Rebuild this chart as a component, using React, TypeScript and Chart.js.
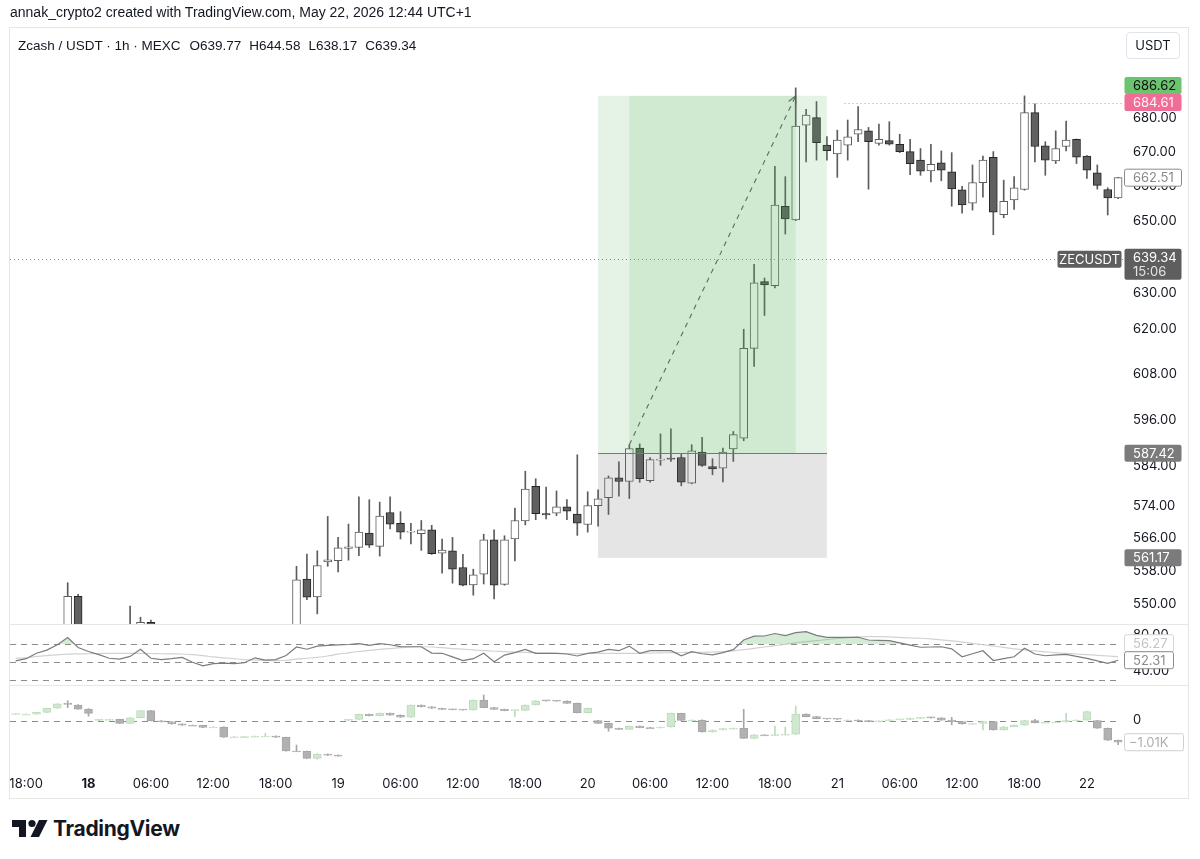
import React, { useEffect, useRef } from "react";
import { Chart, registerables } from "chart.js";

Chart.register(...registerables);

const FONT = "Inter, 'Noto Sans', Roboto, sans-serif";
const TEXT_FONT = "'Liberation Sans', Arial, sans-serif";
const TEXT = "#131722";

// one candle per hour; hour 0 = 18 May 00:00 (UTC+1)
const FIRST_HOUR = -7;

const OPEN = [528, 529, 531, 535, 538, 542, 551.8,
  540, 537, 536, 535, 536, 539, 545.6, 540, 539, 540,
  541, 537, 533, 535, 534, 533.5, 534.5, 538, 536.5, 537.5,
  541, 556.0, 551.7, 560.2, 560.5, 563.5, 563.7, 567.3, 564.0, 572.4,
  569.7, 567.5, 567.1, 568.1, 562.3, 562.9, 558.8, 554.6, 557.2, 565.6,
  554.7, 565.8, 570.3, 579.0, 572.1, 572.2, 573.8, 572.0, 569.4, 574.1,
  576.1, 581.1, 580.2, 588.7, 580.4, 585.6, 586.1, 586.3, 579.8, 587.7,
  584.0, 583.6, 588.5, 591.3, 614.9, 633.1, 632.0, 654.3, 650.4, 677.9,
  680.1, 672.0, 669.4, 672.0, 675.2, 676.2, 672.5, 673.3, 672.2, 670.1,
  667.6, 664.5, 666.8, 664.2, 659.0, 655.2, 661.1, 668.4, 651.9, 656.1,
  659.1, 681.6, 671.8, 667.4, 671.6, 673.7, 668.8, 663.9, 659.1, 656.7];
const HIGH = [531, 533, 536, 540, 544, 555.1, 552.3,
  542, 540, 539, 538, 549.5, 546.8, 546.1, 542, 542, 543,
  542, 538, 537, 537, 536, 536, 540, 539, 539, 542,
  559.1, 562.1, 562.9, 571.4, 566.2, 569.5, 576.3, 575.6, 575.0, 576.3,
  572.6, 569.7, 570.4, 569.2, 565.8, 566.2, 562.0, 558.4, 567.0, 568.1,
  566.6, 573.5, 582.8, 580.9, 578.8, 577.8, 575.6, 587.0, 577.6, 578.1,
  581.6, 585.2, 589.6, 589.8, 586.3, 592.4, 593.7, 587.1, 589.6, 591.5,
  586.0, 588.7, 593.0, 620.1, 637.9, 634.1, 665.8, 662.8, 689.0, 682.6,
  684.9, 674.5, 676.4, 679.4, 683.4, 677.2, 678.2, 678.9, 675.2, 673.7,
  671.0, 672.2, 670.3, 669.8, 660.0, 666.2, 668.8, 670.1, 661.8, 662.8,
  686.6, 684.2, 673.0, 676.2, 679.1, 673.8, 668.9, 666.2, 659.6, 662.6];
const LOW = [525, 527, 529, 533, 536, 540, 538,
  535, 534, 533, 532, 534, 538, 538, 536, 537, 538,
  535, 531, 531, 532, 532, 532, 533, 535, 535, 536,
  539, 551.0, 547.6, 559.1, 557.7, 560.6, 561.7, 563.7, 561.6, 568.3,
  565.8, 564.6, 563.0, 562.0, 557.4, 555.0, 554.3, 552.1, 554.8, 551.2,
  554.5, 560.4, 569.3, 570.6, 570.8, 571.6, 570.6, 566.7, 567.5, 569.0,
  571.9, 576.5, 575.9, 580.0, 580.0, 584.3, 585.3, 579.1, 579.6, 584.0,
  581.9, 580.1, 585.3, 590.6, 610.1, 623.8, 631.4, 646.4, 650.2, 667.1,
  667.6, 667.6, 662.6, 667.6, 673.0, 659.2, 672.0, 672.0, 669.8, 663.4,
  663.2, 661.3, 661.6, 654.3, 652.3, 653.2, 656.9, 646.2, 651.0, 653.4,
  658.9, 667.1, 663.2, 666.6, 670.3, 666.6, 662.3, 659.2, 651.8, 656.5];
const CLOSE = [529, 531, 535, 538, 542, 551.8, 540,
  537, 536, 535, 536, 539, 545.6, 540, 539, 540, 541,
  537, 533, 535, 534, 533.5, 534.5, 538, 536.5, 537.5, 541,
  555.8, 551.6, 559.3, 560.7, 563.6, 563.9, 567.5, 564.3, 571.5, 569.5,
  567.5, 567.7, 568.1, 562.2, 563.1, 558.4, 554.5, 557.0, 565.6, 554.5,
  565.6, 570.4, 578.3, 572.1, 571.8, 573.8, 572.7, 569.7, 574.1, 575.8,
  581.1, 580.2, 588.6, 580.9, 585.8, 585.9, 585.9, 580.0, 588.0, 584.3,
  583.4, 587.7, 592.2, 614.9, 632.8, 632.2, 654.6, 650.7, 677.6, 680.9,
  672.7, 670.4, 673.5, 674.4, 676.6, 673.0, 673.7, 672.3, 670.1, 666.6,
  664.4, 666.4, 664.7, 659.3, 654.7, 661.1, 667.6, 652.6, 655.7, 659.6,
  681.6, 671.6, 667.6, 671.0, 673.5, 668.5, 664.7, 660.3, 656.7, 662.51];

const RSI = [51.5, 54, 60, 63.5, 69.5, 77.5, 66.5,
  62, 58.5, 54.5, 53.5, 56.5, 64.5, 54.5, 53, 54, 55.5,
  50, 46, 48.5, 49, 48.5, 49.5, 55, 52.5, 53, 57.5,
  67, 64.5, 68, 68.8, 69.4, 69.8, 70.7, 68.9, 70.7, 69.5,
  67.5, 67.3, 67.3, 60.2, 60, 56, 51.8, 54, 60, 50.7,
  58, 60.7, 64.4, 60, 60, 60, 59.2, 57, 60, 61.3,
  64.4, 62.9, 68, 60, 62.9, 62.9, 62.9, 57.3, 61.8, 59.5,
  58.3, 60.7, 64, 74.8, 79, 79.2, 82, 79.6, 82.9, 84,
  80, 77.8, 77.8, 77.8, 77.8, 74.8, 74.4, 74, 71.5, 69,
  66.7, 67, 67.3, 65, 56.2, 59.5, 62.9, 52, 54, 56.2,
  65.6, 59.2, 57.3, 58.2, 58.9, 56.5, 54.4, 51.5, 48.9, 52.31];
const RSI_MA = [54.4, 55, 56.5, 57.5, 58.3, 59, 59.3,
  59.5, 59.7, 59.9, 60, 60, 60, 59.8, 59.5, 59.3, 59.2,
  58.5, 57.5, 56, 55, 54, 53, 52.5, 52, 51.8, 52.3,
  53.5, 54.5, 55.5, 57, 59, 60.5, 62, 63.2, 64.3, 65.3,
  66.2, 67, 67.3, 67, 66.2, 65.3, 64.6, 63.8, 63, 62.3,
  61.8, 61.3, 61, 60.5, 60.2, 60, 59.8, 59.7, 59.8, 60,
  60, 60, 60, 60, 60.2, 60.5, 60.7, 60.9, 61, 61.1,
  61.2, 61.8, 62.8, 64, 65.5, 67, 68.5, 70, 71.5, 73,
  74, 75.3, 76.5, 77.5, 78.2, 78.5, 78.5, 78.2, 77.6, 77,
  76.7, 76, 75, 73.8, 72.5, 71.1, 69.5, 68, 66.5, 65,
  63.7, 62.6, 61.6, 60.7, 59.9, 59.2, 58.5, 57.8, 57, 56.27];

// cumulative volume delta candles, in thousands (resets daily)
const CVD_OPEN = [0.28, 0.30, 0.29, 0.38, 0.57, 0.77, 0.72,
  0.53, 0.0, 0.05, 0.05, -0.13, 0.13, 0.46, -0.01, -0.06, -0.16,
  -0.22, -0.23, -0.32, -0.30, -0.78, -0.76, -0.75, -0.73, -0.72, -0.78,
  -1.42, -1.43, -1.76, -1.56, -1.61, 0.0, 0.05, 0.29, 0.22, 0.34,
  0.25, 0.15, 0.72, 0.64, 0.57, 0.52, 0.5, 0.49, 0.95, 0.6,
  0.52, 0.46, 0.47, 0.72, 0.92, 0.91, 0.9, 0.8, 0.36, 0.0,
  -0.13, -0.36, -0.41, -0.26, -0.33, -0.34, -0.3, 0.33, 0.0, 0.02,
  -0.53, -0.44, -0.38, -0.36, -0.83, -0.67, -0.68, -0.66, -0.64, 0.3,
  0.18, 0.09, 0.07, 0.0, 0.02, 0.0, -0.05, -0.02, 0.03, 0.05,
  0.1, 0.15, 0.12, 0.02, -0.05, -0.16, -0.14, -0.05, -0.44, -0.29,
  -0.22, 0.0, -0.1, -0.08, -0.07, 0.0, 0.02, 0.0, -0.36, -0.92];
const CVD_HIGH = [0.31, 0.31, 0.39, 0.58, 0.78, 0.92, 0.74,
  0.55, 0.06, 0.06, 0.06, 0.14, 0.47, 0.47, 0.0, -0.05, -0.15,
  -0.21, -0.22, -0.29, -0.29, -0.75, -0.74, -0.72, -0.6, -0.71, -0.77,
  -1.14, -1.42, -1.55, -1.55, -1.6, 0.06, 0.3, 0.3, 0.35, 0.35,
  0.26, 0.73, 0.73, 0.65, 0.58, 0.53, 0.51, 0.96, 1.19, 0.61,
  0.53, 0.48, 0.73, 0.93, 0.93, 0.92, 0.91, 0.81, 0.58, 0.01,
  -0.12, -0.35, -0.25, -0.25, -0.32, -0.29, 0.34, 0.34, 0.03, 0.03,
  -0.43, -0.37, -0.35, 0.52, -0.66, -0.66, -0.26, -0.3, 0.67, 0.31,
  0.19, 0.1, 0.08, 0.03, 0.03, 0.01, -0.01, 0.04, 0.06, 0.11,
  0.16, 0.16, 0.13, 0.15, -0.04, -0.13, -0.04, -0.04, -0.28, -0.2,
  0.01, 0.06, -0.07, -0.06, 0.33, 0.03, 0.42, 0.01, -0.35, -0.91];
const CVD_LOW = [0.27, 0.29, 0.28, 0.37, 0.56, 0.6, 0.52,
  0.2, -0.01, 0.04, -0.14, -0.14, 0.12, -0.02, -0.07, -0.17, -0.23,
  -0.24, -0.33, -0.33, -0.79, -0.79, -0.77, -0.76, -0.75, -0.79, -1.43,
  -1.44, -1.77, -1.8, -1.63, -1.66, -0.01, 0.04, 0.21, 0.21, 0.24,
  0.14, 0.14, 0.63, 0.56, 0.51, 0.49, 0.48, 0.48, 0.59, 0.51,
  0.45, 0.18, 0.46, 0.71, 0.9, 0.89, 0.79, 0.35, 0.35, -0.14,
  -0.5, -0.42, -0.42, -0.34, -0.35, -0.35, -0.31, -0.01, -0.01, -0.54,
  -0.54, -0.45, -0.39, -0.84, -0.84, -0.69, -0.69, -0.67, -0.65, 0.17,
  0.08, 0.06, 0.05, -0.01, -0.01, -0.06, -0.06, -0.03, 0.02, 0.04,
  0.09, 0.11, 0.01, -0.2, -0.17, -0.17, -0.44, -0.45, -0.45, -0.3,
  -0.23, -0.11, -0.11, -0.09, -0.08, -0.01, 0.01, -0.37, -0.93, -1.12];
const CVD_CLOSE = [0.30, 0.30, 0.38, 0.57, 0.77, 0.75, 0.53,
  0.33, 0.05, 0.05, -0.13, 0.13, 0.46, -0.01, -0.06, -0.16, -0.22,
  -0.23, -0.32, -0.30, -0.78, -0.76, -0.75, -0.73, -0.72, -0.78, -1.42,
  -1.43, -1.76, -1.56, -1.61, -1.65, 0.05, 0.29, 0.22, 0.34, 0.25,
  0.15, 0.72, 0.64, 0.57, 0.52, 0.5, 0.49, 0.95, 0.6, 0.52,
  0.46, 0.47, 0.72, 0.92, 0.91, 0.9, 0.8, 0.36, 0.57, -0.13,
  -0.36, -0.41, -0.26, -0.33, -0.34, -0.3, 0.33, 0.0, 0.02, -0.53,
  -0.44, -0.38, -0.36, -0.83, -0.67, -0.68, -0.66, -0.64, 0.3, 0.18,
  0.09, 0.07, 0.06, 0.02, 0.0, -0.05, -0.02, 0.03, 0.05, 0.1,
  0.15, 0.12, 0.02, -0.05, -0.16, -0.14, -0.05, -0.44, -0.29, -0.22,
  0.0, -0.1, -0.08, -0.07, 0.0, 0.02, 0.41, -0.36, -0.92, -1.01];

const TIME_TICKS = [-6, 0, 6, 12, 18, 24, 30, 36, 42, 48, 54, 60, 66, 72, 78, 84, 90, 96];
const TIME_LABELS = ["18:00", "18", "06:00", "12:00", "18:00", "19", "06:00", "12:00", "18:00",
  "20", "06:00", "12:00", "18:00", "21", "06:00", "12:00", "18:00", "22"];
const BOLD_TIME_TICKS = [0];
const PRICE_TICKS = [550, 558, 566, 574, 584, 596, 608, 620, 630, 640, 650, 660, 670, 680, 690];
const RSI_TICKS = [40, 60, 80];
const RSI_BANDS = [70, 50, 30];
const CVD_TICKS = [0];

// long position tool + marked levels
const POS_START = 49, POS_END = 71, POS_ACTIVE_START = 52, POS_ACTIVE_END = 68;
const ENTRY = 587.42, TARGET = 686.62, STOP = 561.17;
const ARROW_FROM = { h: 52, p: 589.6 }, ARROW_TO = { h: 68, p: 686.62 };
const LAST_PRICE = 639.34, COUNTDOWN = "15:06", SYMBOL = "ZECUSDT";
const ALERT_PRICE = 684.61, ALERT_FROM = 72.7;
const SERIES_LAST = 662.51;
const RSI_LAST = 52.31, RSI_MA_LAST = 56.27, CVD_LAST = -1.01;

const HOURS = OPEN.map((_, i) => FIRST_HOUR + i);

function rr(ctx, x, y, w, h, r) {
  ctx.beginPath();
  ctx.moveTo(x + r, y);
  ctx.lineTo(x + w - r, y);
  ctx.quadraticCurveTo(x + w, y, x + w, y + r);
  ctx.lineTo(x + w, y + h - r);
  ctx.quadraticCurveTo(x + w, y + h, x + w - r, y + h);
  ctx.lineTo(x + r, y + h);
  ctx.quadraticCurveTo(x, y + h, x, y + h - r);
  ctx.lineTo(x, y + r);
  ctx.quadraticCurveTo(x, y, x + r, y);
  ctx.closePath();
}

function labelBox(ctx, x, top, w, h, bg, border, lines, textX, align = "left") {
  ctx.save();
  rr(ctx, x + 0.5, top + 0.5, w - 1, h - 1, 2);
  ctx.fillStyle = bg;
  ctx.fill();
  if (border) {
    ctx.strokeStyle = border;
    ctx.lineWidth = 1;
    ctx.stroke();
  }
  ctx.font = `13px ${FONT}`;
  ctx.textBaseline = "middle";
  ctx.textAlign = align;
  for (const ln of lines) {
    ctx.fillStyle = ln.color;
    ctx.fillText(ln.text, textX, ln.y);
  }
  ctx.restore();
}

function hLine(ctx, x1, x2, y) {
  const yy = Math.round(y) + 0.5;
  ctx.beginPath();
  ctx.moveTo(x1, yy);
  ctx.lineTo(x2, yy);
  ctx.stroke();
}

const overlayPlugin = {
  id: "tvOverlay",
  beforeDatasetDraw(chart, args) {
    const ys = args.meta.yScale;
    const a = chart.chartArea;
    chart.ctx.save();
    chart.ctx.beginPath();
    chart.ctx.rect(a.left, ys.top, a.right - a.left, ys.bottom - ys.top);
    chart.ctx.clip();
  },
  afterDatasetDraw(chart) {
    chart.ctx.restore();
  },
  beforeDatasetsDraw(chart) {
    const { ctx, chartArea: a } = chart;
    const yr = chart.scales.yRsi, yc = chart.scales.yCvd;
    ctx.save();
    ctx.strokeStyle = "#8c8c8c";
    ctx.lineWidth = 1;
    ctx.setLineDash([6, 5]);
    for (const b of RSI_BANDS) hLine(ctx, a.left, a.right - 2, yr.getPixelForValue(b));
    for (const b of CVD_TICKS) hLine(ctx, a.left, a.right - 2, yc.getPixelForValue(b));
    ctx.restore();
  },
  afterDatasetsDraw(chart) {
    const { ctx, chartArea: a } = chart;
    const xs = chart.scales.x, yp = chart.scales.yPrice;
    const X = (h) => xs.getPixelForValue(h);
    const Y = (p) => yp.getPixelForValue(p);
    ctx.save();
    ctx.beginPath();
    ctx.rect(a.left, yp.top, a.right - a.left, yp.bottom - yp.top);
    ctx.clip();
    const x1 = X(POS_START), x2 = X(POS_END), xa1 = X(POS_ACTIVE_START), xa2 = X(POS_ACTIVE_END);
    const yT = Y(TARGET), yE = Y(ENTRY), yS = Y(STOP);
    ctx.fillStyle = "rgba(76,175,80,0.15)";
    ctx.fillRect(x1, yT, x2 - x1, yE - yT);
    ctx.fillStyle = "rgba(76,175,80,0.13)";
    ctx.fillRect(xa1, yT, xa2 - xa1, yE - yT);
    ctx.fillStyle = "rgba(110,110,110,0.18)";
    ctx.fillRect(x1, yE, x2 - x1, yS - yE);
    ctx.strokeStyle = "#777777";
    ctx.lineWidth = 1;
    hLine(ctx, x1, x2, yE);

    // dashed path arrow
    const ax1 = X(ARROW_FROM.h), ay1 = Y(ARROW_FROM.p), ax2 = X(ARROW_TO.h), ay2 = Y(ARROW_TO.p);
    ctx.strokeStyle = "rgba(85,100,85,0.95)";
    ctx.lineWidth = 1.1;
    ctx.setLineDash([5, 5]);
    ctx.beginPath();
    ctx.moveTo(ax1, ay1);
    ctx.lineTo(ax2, ay2);
    ctx.stroke();
    ctx.setLineDash([]);
    const ang = Math.atan2(ay2 - ay1, ax2 - ax1);
    ctx.beginPath();
    ctx.moveTo(ax2 - 9 * Math.cos(ang - 0.45), ay2 - 9 * Math.sin(ang - 0.45));
    ctx.lineTo(ax2, ay2);
    ctx.lineTo(ax2 - 9 * Math.cos(ang + 0.45), ay2 - 9 * Math.sin(ang + 0.45));
    ctx.stroke();

    // last price dotted line
    ctx.lineWidth = 1;
    ctx.strokeStyle = "#8a8a8a";
    ctx.setLineDash([1, 3]);
    hLine(ctx, a.left, a.right, Y(LAST_PRICE));
    // alert line
    ctx.strokeStyle = "#f07ca0";
    hLine(ctx, X(ALERT_FROM), a.right, Y(ALERT_PRICE));
    ctx.restore();
  },
  afterDraw(chart) {
    const { ctx, chartArea: a } = chart;
    const yp = chart.scales.yPrice, yr = chart.scales.yRsi, yc = chart.scales.yCvd;
    const frameR = 1188.5;
    ctx.save();
    ctx.strokeStyle = "#e6e6e6";
    ctx.lineWidth = 1;
    hLine(ctx, a.left, frameR, yp.bottom - 1);
    hLine(ctx, a.left, frameR, yr.bottom - 1);
    ctx.strokeRect(9.5, 27.5, frameR - 9.5, 771);
    ctx.restore();

    const bx = a.right + 1, bw = 58, bh = 18, tx = a.right + 10;
    // symbol tag on the last price line
    const yL = yp.getPixelForValue(LAST_PRICE);
    labelBox(ctx, a.right - 66, yL - 9, 65, bh, "#5e5e5e", null,
      [{ text: SYMBOL, y: yL + 0.5, color: "#ffffff" }], a.right - 33.5, "center");
    labelBox(ctx, bx, yL - 11, bw, 32, "#5e5e5e", null,
      [{ text: LAST_PRICE.toFixed(2), y: yL - 1, color: "#ffffff" },
       { text: COUNTDOWN, y: yL + 13, color: "#e4e4e4" }], tx);

    const yA = yp.getPixelForValue(ALERT_PRICE);
    labelBox(ctx, bx, yA - 9, bw, bh, "#ef6d96", null,
      [{ text: ALERT_PRICE.toFixed(2), y: yA + 0.5, color: "#fff4f7" }], tx);
    const yTg = yA - 17;
    labelBox(ctx, bx, yTg - 9, bw, bh, "#6cc46f", null,
      [{ text: TARGET.toFixed(2), y: yTg + 0.5, color: "#111111" }], tx);

    const yS = yp.getPixelForValue(SERIES_LAST);
    labelBox(ctx, bx, yS - 9, bw, bh, "#ffffff", "#8a8a8a",
      [{ text: SERIES_LAST.toFixed(2), y: yS + 0.5, color: "#8a8a8a" }], tx);

    const yE = yp.getPixelForValue(ENTRY);
    labelBox(ctx, bx, yE - 9, bw, bh, "#7b7b7b", null,
      [{ text: ENTRY.toFixed(2), y: yE + 0.5, color: "#ffffff" }], tx);
    const ySt = yp.getPixelForValue(STOP);
    labelBox(ctx, bx, ySt - 9, bw, bh, "#7b7b7b", null,
      [{ text: STOP.toFixed(2), y: ySt + 0.5, color: "#ffffff" }], tx);

    const yR = yr.getPixelForValue(RSI_LAST);
    const yM = yR - 17;
    labelBox(ctx, bx, yM - 9, 50, bh, "#ffffff", "#d6d6d6",
      [{ text: RSI_MA_LAST.toFixed(2), y: yM + 0.5, color: "#c4c4c4" }], tx);
    labelBox(ctx, bx, yR - 9, 50, bh, "#ffffff", "#8c8c8c",
      [{ text: RSI_LAST.toFixed(2), y: yR + 0.5, color: "#8c8c8c" }], tx);

    const yC = yc.getPixelForValue(CVD_LAST);
    labelBox(ctx, bx, yC - 9, 60, bh, "#ffffff", "#d0d0d0",
      [{ text: "\u2212" + Math.abs(CVD_LAST).toFixed(2) + "K", y: yC + 0.5, color: "#b0b0b0" }], a.right + 6);
  },
};

const axisWidth = (s) => { s.width = 77; };

export default function App() {
  const ref = useRef(null);

  useEffect(() => {
    const canvas = ref.current;
    Chart.defaults.font.family = FONT;
    Chart.defaults.color = TEXT;

    const bull = HOURS.map((_, i) => CLOSE[i] >= OPEN[i]);
    const cvdUp = HOURS.map((_, i) => CVD_CLOSE[i] >= CVD_OPEN[i]);

    const chart = new Chart(canvas, {
      type: "bar",
      data: {
        datasets: [
          {
            label: "body",
            yAxisID: "yPrice",
            order: 1,
            grouped: false,
            barThickness: 8,
            minBarLength: 1,
            borderWidth: 1,
            borderSkipped: false,
            data: HOURS.map((h, i) => ({ x: h, y: [OPEN[i], CLOSE[i]] })),
            backgroundColor: bull.map((b) => (b ? "#ffffff" : "#606060")),
            borderColor: bull.map((b) => (b ? "#5c5c5c" : "#262626")),
          },
          {
            label: "wick",
            yAxisID: "yPrice",
            order: 2,
            grouped: false,
            barThickness: 1,
            borderWidth: 0,
            data: HOURS.map((h, i) => ({ x: h, y: [LOW[i], HIGH[i]] })),
            backgroundColor: "#5c5c5c",
          },
          {
            type: "line",
            label: "RSI",
            yAxisID: "yRsi",
            order: 1,
            data: HOURS.map((h, i) => ({ x: h, y: RSI[i] })),
            borderColor: "#7c7c7c",
            borderWidth: 1.2,
            pointRadius: 0,
            tension: 0,
            fill: { target: { value: 70 }, above: "rgba(76,175,80,0.24)", below: "rgba(0,0,0,0)" },
          },
          {
            type: "line",
            label: "RSI MA",
            yAxisID: "yRsi",
            order: 2,
            data: HOURS.map((h, i) => ({ x: h, y: RSI_MA[i] })),
            borderColor: "#d2d2d2",
            borderWidth: 1.2,
            pointRadius: 0,
            tension: 0.3,
            fill: false,
          },
          {
            label: "cvd body",
            yAxisID: "yCvd",
            order: 1,
            grouped: false,
            barThickness: 8,
            minBarLength: 1,
            borderWidth: 1,
            borderSkipped: false,
            data: HOURS.map((h, i) => ({ x: h, y: [CVD_OPEN[i], CVD_CLOSE[i]] })),
            backgroundColor: cvdUp.map((u) => (u ? "#cfe8cf" : "#b1b1b1")),
            borderColor: cvdUp.map((u) => (u ? "#bcdcbc" : "#a6a6a6")),
          },
          {
            label: "cvd wick",
            yAxisID: "yCvd",
            order: 2,
            grouped: false,
            barThickness: 1,
            borderWidth: 0,
            data: HOURS.map((h, i) => ({ x: h, y: [CVD_LOW[i], CVD_HIGH[i]] })),
            backgroundColor: cvdUp.map((u) => (u ? "#bcdcbc" : "#a6a6a6")),
          },
        ],
      },
      options: {
        animation: false,
        responsive: false,
        maintainAspectRatio: false,
        events: [],
        layout: { padding: { left: 10, top: 28, right: 0, bottom: 0 } },
        plugins: { legend: { display: false }, tooltip: { enabled: false } },
        scales: {
          x: {
            type: "linear",
            min: -7.548,
            max: 99.47,
            offset: false,
            grid: { display: false, offset: false },
            border: { display: false },
            afterBuildTicks: (s) => { s.ticks = TIME_TICKS.map((v) => ({ value: v })); },
            afterFit: (s) => { s.height = 30; },
            ticks: {
              autoSkip: false,
              maxRotation: 0,
              padding: -2,
              color: TEXT,
              font: (c) => ({ family: FONT, size: 13, weight: c.tick && BOLD_TIME_TICKS.includes(c.tick.value) ? "bold" : "normal" }),
              callback: (v) => TIME_LABELS[TIME_TICKS.indexOf(Number(v))] ?? "",
            },
          },
          yPrice: {
            type: "logarithmic",
            position: "right",
            stack: "panes",
            stackWeight: 597,
            min: 544.95,
            max: 707.26,
            bounds: "data",
            grid: { display: false, drawTicks: false },
            border: { display: false },
            afterBuildTicks: (s) => { s.ticks = PRICE_TICKS.map((v) => ({ value: v })); },
            afterFit: axisWidth,
            ticks: { autoSkip: false, padding: 10, color: TEXT, font: { size: 13 }, callback: (v) => Number(v).toFixed(2) },
          },
          yRsi: {
            type: "linear",
            position: "right",
            stack: "panes",
            stackWeight: 61,
            min: 23.67,
            max: 91.44,
            bounds: "data",
            grid: { display: false, drawTicks: false },
            border: { display: false },
            afterBuildTicks: (s) => { s.ticks = RSI_TICKS.map((v) => ({ value: v })); },
            afterFit: axisWidth,
            ticks: { autoSkip: false, padding: 10, color: TEXT, font: { size: 13 }, callback: (v) => Number(v).toFixed(2) },
          },
          yCvd: {
            type: "linear",
            position: "right",
            stack: "panes",
            stackWeight: 84,
            min: -2.302,
            max: 1.605,
            bounds: "data",
            grid: { display: false, drawTicks: false },
            border: { display: false },
            afterBuildTicks: (s) => { s.ticks = CVD_TICKS.map((v) => ({ value: v })); },
            afterFit: axisWidth,
            ticks: { autoSkip: false, padding: 10, color: TEXT, font: { size: 13 }, callback: (v) => String(v) },
          },
        },
      },
      plugins: [overlayPlugin],
    });
    return () => chart.destroy();
  }, []);

  return (
    <div style={{ position: "fixed", left: 0, top: 0, width: 1200, height: 859, background: "#ffffff", fontFamily: TEXT_FONT, color: TEXT, overflow: "hidden" }}>
      <canvas ref={ref} width={1200} height={800} style={{ position: "absolute", left: 0, top: 0, width: 1200, height: 800 }} />
      <div style={{ position: "absolute", left: 10, top: 3, fontSize: 14, lineHeight: "18px", whiteSpace: "nowrap" }}>
        annak_crypto2 created with TradingView.com, May 22, 2026 12:44 UTC+1
      </div>
      <div style={{ position: "absolute", left: 18, top: 37, fontSize: 13.5, lineHeight: "18px", whiteSpace: "nowrap" }}>
        <span>Zcash / USDT · 1h · MEXC</span>
        <span style={{ marginLeft: 9 }}>O639.77</span>
        <span style={{ marginLeft: 8 }}>H644.58</span>
        <span style={{ marginLeft: 8 }}>L638.17</span>
        <span style={{ marginLeft: 8 }}>C639.34</span>
      </div>
      <div style={{ position: "absolute", left: 1126, top: 32, width: 54, height: 27, border: "1px solid #e0e3eb", borderRadius: 4, boxSizing: "border-box", fontSize: 13, lineHeight: "25px", textAlign: "center", fontFamily: FONT }}>
        USDT
      </div>
      <div style={{ position: "absolute", left: 12, top: 814, display: "flex", alignItems: "center", height: 28, fontFamily: FONT }}>
        <svg width="36" height="20" viewBox="0 0 36 20" style={{ display: "block" }}>
          <path d="M0 2h14v17H7V9H0z" fill="#131722" />
          <circle cx="20" cy="5.5" r="3.6" fill="#131722" />
          <path d="M27 2h8.5L27 19h-8.5z" fill="#131722" />
        </svg>
        <span style={{ marginLeft: 5, fontSize: 21, fontWeight: 700, letterSpacing: -0.3, color: "#131722" }}>TradingView</span>
      </div>
    </div>
  );
}
